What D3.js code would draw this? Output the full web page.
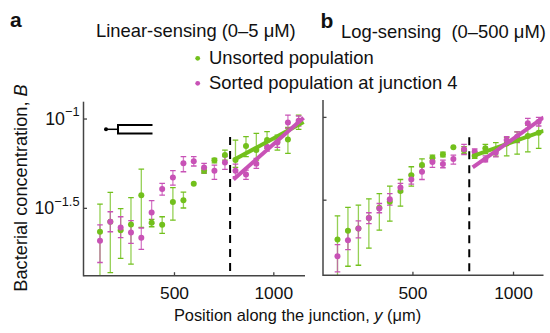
<!DOCTYPE html>
<html>
<head>
<meta charset="utf-8">
<script src="https://cdn.jsdelivr.net/npm/d3@7"></script>
<style>
  body { margin: 0; background: #fff; }
  svg text { font-family: "Liberation Sans", Arial, sans-serif; fill: #111; }
</style>
</head>
<body>
<div id="chart"></div>
<script>
// positions along the junction (um)
const positions = [125, 177, 229, 281, 333, 385, 438, 492, 545, 597, 649, 701, 754, 807, 860, 912, 966, 1018, 1071, 1125];

// log10 of bacterial concentration B, panel a (linear-sensing)
const linUnsorted   = [-1.631, -1.575, -1.622, -1.590, -1.426, -1.580, -1.592, -1.465, -1.454, -1.362, -1.289, -1.231, -1.202, -1.230, -1.151, -1.174, -1.118, -1.127, -1.114, -1.024];
const linUnsortedHi = [-1.476, -1.411, -1.502, -1.440, -1.280, -1.562, -1.547, -1.384, -1.409, -1.362, -1.276, -1.220, -1.174, -1.118, -1.099, -1.080, -1.071, -1.090, -1.047, -0.978];
const linUnsortedLo = [-1.879, -1.860, -1.780, -1.812, -1.607, -1.603, -1.640, -1.566, -1.498, -1.362, -1.304, -1.245, -1.230, -1.271, -1.211, -1.230, -1.164, -1.174, -1.192, -1.058];
const linSorted     = [-1.681, -1.575, -1.607, -1.635, -1.664, -1.523, -1.392, -1.328, -1.248, -1.237, -1.272, -1.289, -1.243, -1.289, -1.310, -1.250, -1.155, -1.131, -1.019, -1.009];
const linSortedHi   = [-1.592, -1.519, -1.547, -1.569, -1.610, -1.457, -1.360, -1.289, -1.211, -1.211, -1.248, -1.258, -1.211, -1.252, -1.286, -1.220, -1.127, -1.108, -0.978, -0.983];
const linSortedLo   = [-1.803, -1.631, -1.664, -1.696, -1.730, -1.584, -1.426, -1.370, -1.295, -1.263, -1.300, -1.338, -1.282, -1.323, -1.338, -1.276, -1.179, -1.159, -1.052, -1.039];

// panel b (log-sensing)
const logUnsorted   = [-1.738, -1.685, -1.671, -1.607, -1.546, -1.510, -1.445, -1.349, -1.288, -1.244, -1.224, -1.181, -1.198, -1.232, -1.187, -1.198, -1.157, -1.137, -1.113, -1.093];
const logUnsortedHi = [-1.595, -1.544, -1.530, -1.492, -1.460, -1.415, -1.375, -1.298, -1.250, -1.228, -1.210, -1.181, -1.177, -1.208, -1.163, -1.153, -1.121, -1.087, -1.046, -1.020];
const logUnsortedLo = [-1.963, -1.899, -1.893, -1.790, -1.681, -1.627, -1.536, -1.415, -1.328, -1.262, -1.238, -1.181, -1.218, -1.248, -1.218, -1.234, -1.232, -1.222, -1.208, -1.187];
const logSorted     = [-1.838, -1.742, -1.671, -1.607, -1.550, -1.494, -1.423, -1.375, -1.328, -1.270, -1.282, -1.252, -1.193, -1.208, -1.254, -1.214, -1.137, -1.117, -1.036, -1.026];
const logSortedHi   = [-1.768, -1.681, -1.625, -1.576, -1.520, -1.460, -1.399, -1.345, -1.298, -1.248, -1.258, -1.228, -1.163, -1.191, -1.232, -1.187, -1.117, -1.087, -1.006, -1.000];
const logSortedLo   = [-1.933, -1.798, -1.728, -1.641, -1.576, -1.530, -1.451, -1.403, -1.375, -1.302, -1.304, -1.282, -1.224, -1.238, -1.268, -1.238, -1.163, -1.153, -1.067, -1.052];

// fitted lines beyond the junction
const fitX = [797, 1150];
const linFitUnsorted = [-1.230, -1.017];
const linFitSorted   = [-1.338, -0.993];
const logFitUnsorted = [-1.234, -1.081];
const logFitSorted   = [-1.302, -1.000];

const junctionX = 780;
const yTicks = [-1, -1.5];
const xTicks = [500, 1000];

const green = "#72c01c";
const magenta = "#c852b6";

const W = 550, H = 333;
const svg = d3.select("#chart").append("svg").attr("width", W).attr("height", H);

const panels = [
  { id: "a", xr: [83.5, 305], xd: [42, 1157], yr: [275.7, 101.7], yd: [-1.877, -0.903], labels: true, dashTop: -1.10,
    un: linUnsorted, unHi: linUnsortedHi, unLo: linUnsortedLo, so: linSorted, soHi: linSortedHi, soLo: linSortedLo,
    fitUn: linFitUnsorted, fitSo: linFitSorted },
  { id: "b", xr: [323, 543.5], xd: [53, 1149], yr: [275.2, 100], yd: [-1.953, -0.895], labels: false, dashTop: -1.12,
    un: logUnsorted, unHi: logUnsortedHi, unLo: logUnsortedLo, so: logSorted, soHi: logSortedHi, soLo: logSortedLo,
    fitUn: logFitUnsorted, fitSo: logFitSorted }
];

panels.forEach(p => {
  const x = d3.scaleLinear().domain(p.xd).range(p.xr);
  const y = d3.scaleLinear().domain(p.yd).range(p.yr);
  const g = svg.append("g");

  g.append("clipPath").attr("id", "clip" + p.id)
    .append("rect").attr("x", p.xr[0]).attr("y", p.yr[1])
    .attr("width", p.xr[1] - p.xr[0]).attr("height", p.yr[0] - p.yr[1]);
  const plot = g.append("g").attr("clip-path", `url(#clip${p.id})`);

  // dashed junction marker
  plot.append("line")
    .attr("x1", x(junctionX)).attr("x2", x(junctionX))
    .attr("y1", y(p.dashTop)).attr("y2", p.yr[0])
    .attr("stroke", "#000").attr("stroke-width", 2).attr("stroke-dasharray", "8,6");

  function errorBars(vals, hi, lo, color) {
    const eb = plot.append("g").attr("stroke", color).attr("stroke-width", 1.3).attr("fill", "none");
    positions.forEach((px, i) => {
      if (hi[i] === lo[i]) return;
      const cx = x(px);
      eb.append("line").attr("x1", cx).attr("x2", cx).attr("y1", y(hi[i])).attr("y2", y(lo[i])).attr("stroke-opacity", 0.75);
      eb.append("line").attr("x1", cx - 2.8).attr("x2", cx + 2.8).attr("y1", y(hi[i])).attr("y2", y(hi[i]));
      eb.append("line").attr("x1", cx - 2.8).attr("x2", cx + 2.8).attr("y1", y(lo[i])).attr("y2", y(lo[i]));
    });
  }
  function dots(vals, color) {
    plot.append("g").selectAll("circle").data(vals).join("circle")
      .attr("cx", (d, i) => x(positions[i])).attr("cy", d => y(d))
      .attr("r", 3).attr("fill", color);
  }
  errorBars(p.un, p.unHi, p.unLo, green);
  errorBars(p.so, p.soHi, p.soLo, magenta);
  dots(p.un, green);
  dots(p.so, magenta);

  const line = d3.line().x((d, i) => x(fitX[i])).y(d => y(d));
  plot.append("path").attr("d", line(p.fitUn)).attr("stroke", green).attr("stroke-width", 4).attr("fill", "none");
  plot.append("path").attr("d", line(p.fitSo)).attr("stroke", magenta).attr("stroke-width", 4).attr("fill", "none");

  // axes
  const axisColor = "#444";
  g.append("line").attr("x1", p.xr[0]).attr("x2", p.xr[0]).attr("y1", p.yr[1]).attr("y2", p.yr[0] + 0.7)
    .attr("stroke", axisColor).attr("stroke-width", 1.5);
  g.append("line").attr("x1", p.xr[0]).attr("x2", p.xr[1]).attr("y1", p.yr[0]).attr("y2", p.yr[0])
    .attr("stroke", axisColor).attr("stroke-width", 1.5);

  yTicks.forEach(t => {
    g.append("line").attr("x1", p.xr[0]).attr("x2", p.xr[0] + 3.5).attr("y1", y(t)).attr("y2", y(t))
      .attr("stroke", axisColor).attr("stroke-width", 1.3);
    if (p.labels) {
      const tx = g.append("text").attr("x", p.xr[0] - 4).attr("y", y(t) + 5.8)
        .attr("text-anchor", "end").attr("font-size", 17.8);
      tx.append("tspan").text("10");
      tx.append("tspan").attr("dy", -8.5).attr("font-size", 12.8).text("\u2212" + String(Math.abs(t)));
    }
  });
  xTicks.forEach(t => {
    g.append("line").attr("x1", x(t)).attr("x2", x(t)).attr("y1", p.yr[0]).attr("y2", p.yr[0] - 3.5)
      .attr("stroke", axisColor).attr("stroke-width", 1.3);
    g.append("text").attr("x", x(t)).attr("y", 298.5).attr("text-anchor", "middle")
      .attr("font-size", 17.4).text(t);
  });
});

// junction icon
const icon = svg.append("g").attr("stroke", "#000").attr("fill", "none").attr("stroke-width", 2);
icon.append("circle").attr("cx", 106).attr("cy", 129.3).attr("r", 2).attr("fill", "#000").attr("stroke", "none");
icon.append("line").attr("x1", 106).attr("x2", 117).attr("y1", 129.3).attr("y2", 129.3).attr("stroke-width", 1.5);
icon.append("path").attr("d", "M152.5,125 H118 V133.5 H152.5");

// titles
svg.append("text").attr("x", 10).attr("y", 26.5).attr("font-size", 21).attr("font-weight", "bold").text("a");
svg.append("text").attr("x", 320.5).attr("y", 27.5).attr("font-size", 21).attr("font-weight", "bold").text("b");
svg.append("text").attr("x", 96).attr("y", 36.5).attr("font-size", 18.4).text("Linear-sensing (0\u20135 \u03bcM)");
svg.append("text").attr("x", 341).attr("y", 38).attr("font-size", 18.4)
  .text("Log-sensing\u00a0 (0\u2013500 \u03bcM)");

// legend
const legend = [["Unsorted population", green], ["Sorted population at junction 4", magenta]];
legend.forEach((d, i) => {
  svg.append("circle").attr("cx", 197.7).attr("cy", 58.3 + i * 25).attr("r", 2.4).attr("fill", d[1]);
  svg.append("text").attr("x", 209).attr("y", 63.8 + i * 25).attr("font-size", 18.4).text(d[0]);
});

// axis labels
const yl = svg.append("text").attr("transform", "translate(26.5,188) rotate(-90)")
  .attr("text-anchor", "middle").attr("font-size", 18.2);
yl.append("tspan").text("Bacterial concentration, ");
yl.append("tspan").attr("font-style", "italic").text("B");

const xl = svg.append("text").attr("x", 297.5).attr("y", 321).attr("text-anchor", "middle").attr("font-size", 16.4);
xl.append("tspan").text("Position along the junction, ");
xl.append("tspan").attr("font-style", "italic").text("y");
xl.append("tspan").text(" (\u03bcm)");
</script>
</body>
</html>
